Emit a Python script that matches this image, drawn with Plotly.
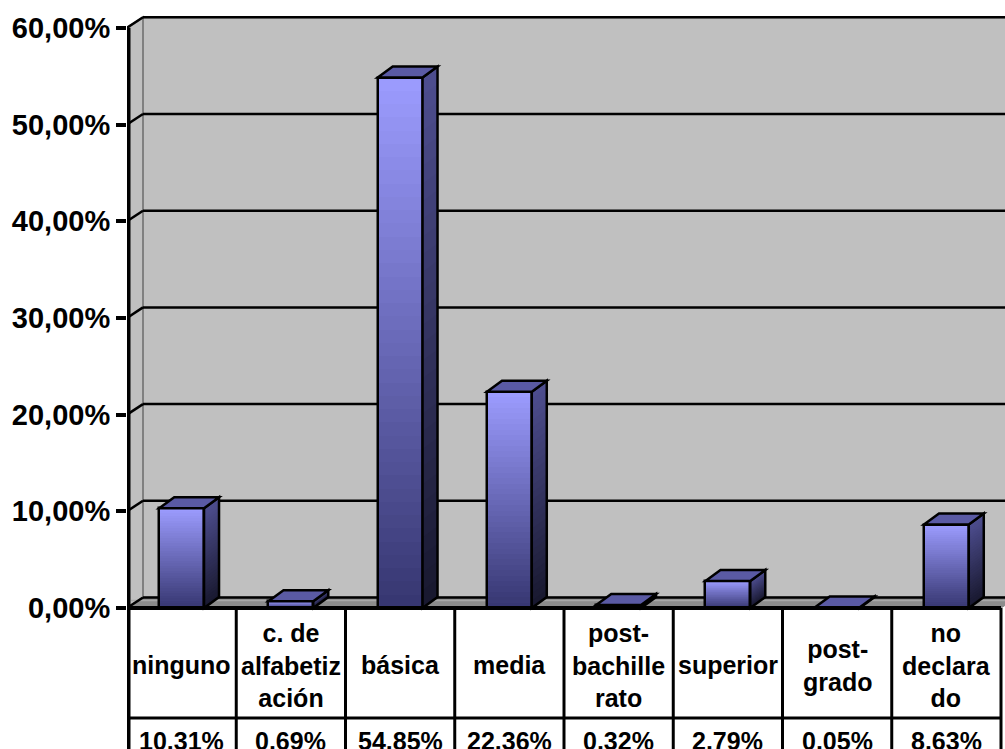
import plotly.graph_objects as go

# ---- data ----
categories = ["ninguno", "c. de<br>alfabetiz<br>ación", "básica", "media",
              "post-<br>bachille<br>rato", "superior", "post-<br>grado",
              "no<br>declara<br>do"]
values = [10.31, 0.69, 54.85, 22.36, 0.32, 2.79, 0.05, 8.63]
value_labels = ["10.31%", "0.69%", "54.85%", "22.36%", "0.32%", "2.79%", "0.05%", "8.63%"]
y_ticks = [0, 10, 20, 30, 40, 50, 60]
y_tick_labels = ["0,00%", "10,00%", "20,00%", "30,00%", "40,00%", "50,00%", "60,00%"]

# ---- page geometry (pixels) ----
W, H = 1005, 749
ML = 127                 # left edge of the category area
PX_PER_CAT = 109.25      # width of one category column
Y0_PIX = 608             # pixel row of the 0 % line
PX_PER_UNIT = 9.67       # pixels per percentage point

x_range = [-0.5, -0.5 + (W - ML) / PX_PER_CAT]
y_range = [-(H - Y0_PIX) / PX_PER_UNIT, Y0_PIX / PX_PER_UNIT]


def px_x(d):
    return d / PX_PER_CAT


def px_y(d):
    return d / PX_PER_UNIT


def y_at(pixel_row):
    return (Y0_PIX - pixel_row) / PX_PER_UNIT


WALL_DX, WALL_DY = px_x(16), px_y(10.5)
BAR_DX, BAR_DY = px_x(15), px_y(11)
BAR_W = 0.41
Y_MAX = 60
N_CAT = len(values)

FONT = "Liberation Sans, Arial, sans-serif"
WALL = "#C0C0C0"
WALL_EDGE = "#808080"


def hex_rgb(h):
    h = h.lstrip("#")
    return [int(h[i:i + 2], 16) for i in (0, 2, 4)]


def lerp(c0, c1, t):
    a, b = hex_rgb(c0), hex_rgb(c1)
    return "rgb({},{},{})".format(*[round(a[i] + (b[i] - a[i]) * t) for i in range(3)])


def poly(pts, fill="rgba(0,0,0,0)", line_color="rgba(0,0,0,0)", width=0, layer="below"):
    path = "M " + " L ".join(f"{x:.5f},{y:.5f}" for x, y in pts) + " Z"
    return dict(type="path", path=path, xref="x", yref="y", fillcolor=fill,
                line=dict(color=line_color, width=width), layer=layer)


def seg(x0, y0, x1, y1, color="black", width=2.5, layer="below"):
    return dict(type="line", x0=x0, y0=y0, x1=x1, y1=y1, xref="x", yref="y",
                line=dict(color=color, width=width), layer=layer)


shapes = []
xl, xr = -0.5, 7.5

# back wall and left side wall
shapes.append(poly([(xl + WALL_DX, WALL_DY), (xr + WALL_DX, WALL_DY),
                    (xr + WALL_DX, Y_MAX + WALL_DY), (xl + WALL_DX, Y_MAX + WALL_DY)],
                   WALL, WALL_EDGE, 2))
shapes.append(poly([(xl, 0), (xl, Y_MAX), (xl + WALL_DX, Y_MAX + WALL_DY), (xl + WALL_DX, WALL_DY)],
                   WALL, WALL_EDGE, 2))
# floor
shapes.append(poly([(xl, 0), (xr, 0), (xr + WALL_DX, WALL_DY), (xl + WALL_DX, WALL_DY)],
                   "#8C8C8C", "#8C8C8C", 1))
shapes.append(seg(xl + px_x(4), px_y(7.5), xr + WALL_DX, px_y(7.5), "#A8A8A8", 1.5))

# gridlines on the walls
for g in y_ticks:
    shapes.append(seg(xl + WALL_DX, g + WALL_DY, xr + WALL_DX, g + WALL_DY))
    shapes.append(seg(xl, g, xl + WALL_DX, g + WALL_DY))

# side and top faces of the columns
SIDE_TOP, SIDE_BOT = "#4E4E90", "#18182E"
M = 30
for i, v in enumerate(values):
    r = i + BAR_W / 2
    l = i - BAR_W / 2
    for k in range(M):
        h = v * (M - k) / M
        t = (M - k - 0.5) / M
        shapes.append(poly([(r, 0), (r, h), (r + BAR_DX, h + BAR_DY), (r + BAR_DX, BAR_DY)],
                           lerp(SIDE_BOT, SIDE_TOP, t), layer="above"))
    shapes.append(poly([(r, 0), (r, v), (r + BAR_DX, v + BAR_DY), (r + BAR_DX, BAR_DY)],
                       line_color="black", width=2.5, layer="above"))
    shapes.append(poly([(l, v), (r, v), (r + BAR_DX, v + BAR_DY), (l + BAR_DX, v + BAR_DY)],
                       "#5A5AA4", "black", 2.5, layer="above"))

# data table below the chart
ROW_SPLIT = y_at(718)
shapes.append(seg(xl, 0, xr, 0, width=4, layer="above"))
shapes.append(seg(xl, ROW_SPLIT, xr, ROW_SPLIT, width=3, layer="above"))
for k in range(1, N_CAT + 1):
    shapes.append(seg(xl + k, 0, xl + k, y_range[0], width=3, layer="above"))
# vertical value axis, continuing as the table's left border
shapes.append(seg(xl + px_x(1.5), Y_MAX, xl + px_x(1.5), y_range[0], width=4, layer="above"))

annotations = []
for i, (c, lab) in enumerate(zip(categories, value_labels)):
    annotations.append(dict(x=i, y=y_at(665), xref="x", yref="y", text=c, showarrow=False,
                            font=dict(family=FONT, size=25, color="black", weight="bold"),
                            align="center", xanchor="center", yanchor="middle"))
    annotations.append(dict(x=i, y=y_at(741), xref="x", yref="y", text=lab, showarrow=False,
                            font=dict(family=FONT, size=25, color="black", weight="bold"),
                            align="center", xanchor="center", yanchor="middle"))

fig = go.Figure()

# front faces: stacked shades give each column a vertical gradient
FRONT_TOP, FRONT_BOT = "#9C9CFF", "#363670"
N = 40
xs = list(range(N_CAT))
for k in range(N):
    frac = (N - k) / N
    t = (N - k - 0.5) / N
    fig.add_trace(go.Bar(x=xs, y=[v * frac for v in values], width=BAR_W,
                         marker=dict(color=lerp(FRONT_BOT, FRONT_TOP, t), line=dict(width=0)),
                         hoverinfo="skip", showlegend=False))
fig.add_trace(go.Bar(x=xs, y=values, width=BAR_W,
                     marker=dict(color="rgba(0,0,0,0)", line=dict(color="black", width=2.5)),
                     text=value_labels, textposition="none", hoverinfo="text",
                     showlegend=False))

fig.update_layout(
    width=W, height=H,
    margin=dict(l=ML, r=0, t=0, b=0),
    paper_bgcolor="white", plot_bgcolor="white",
    barmode="overlay", bargap=0,
    shapes=shapes, annotations=annotations,
    xaxis=dict(range=x_range, showticklabels=False, showgrid=False, zeroline=False,
               showline=False, ticks="", fixedrange=True),
    yaxis=dict(range=y_range, tickvals=y_ticks, ticktext=y_tick_labels,
               showgrid=False, zeroline=False, showline=False,
               ticks="outside", ticklen=10, tickwidth=4, tickcolor="black",
               tickfont=dict(family=FONT, size=29, color="black", weight="bold"),
               fixedrange=True),
)

fig.write_html("out.html")
